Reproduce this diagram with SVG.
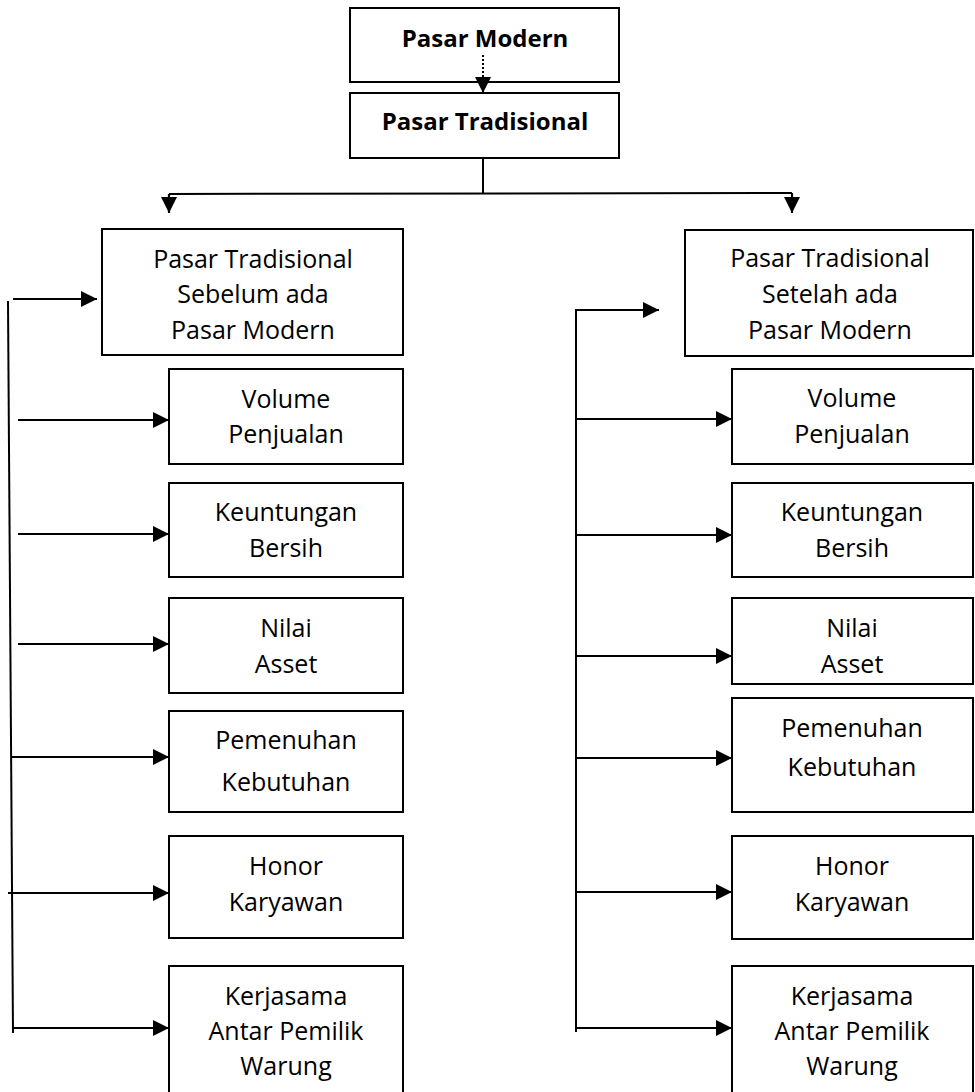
<svg xmlns="http://www.w3.org/2000/svg" width="975" height="1092" viewBox="0 0 975 1092">
  <style>
    .box { fill: #ffffff; stroke: #000000; stroke-width: 2; }
    .lbl { font-family: "Open Sans", "Liberation Sans", sans-serif; font-size: 25px; fill: #000000; text-anchor: middle; }
    .ttl { font-family: "Open Sans", "Liberation Sans", sans-serif; font-size: 24px; font-weight: bold; fill: #000000; text-anchor: middle; }
    .ln { fill: none; stroke: #000000; stroke-width: 2; }
    .arr { fill: none; stroke: #000000; stroke-width: 2.2; marker-end: url(#head); }
  </style>
  <defs>
    <marker id="head" markerUnits="userSpaceOnUse" markerWidth="16" markerHeight="16" viewBox="0 0 15 15" refX="15" refY="7.5" orient="auto">
      <path d="M0,0 L15,7.5 L0,15 Z" fill="#000000"/>
    </marker>
  </defs>
  <rect width="975" height="1092" fill="#ffffff"/>

  <!-- top level -->
  <g id="pasar-modern">
    <rect class="box" x="350" y="8" width="269" height="74"/>
    <text class="ttl" x="485" y="47">Pasar Modern</text>
  </g>
  <g id="pasar-tradisional">
    <rect class="box" x="350" y="93" width="269" height="65"/>
    <text class="ttl" x="485" y="130">Pasar Tradisional</text>
  </g>

  <!-- before / after branches -->
  <g id="sebelum">
    <rect class="box" x="102" y="229" width="301" height="126"/>
    <text class="lbl" x="253" y="268">Pasar Tradisional</text>
    <text class="lbl" x="253" y="303">Sebelum ada</text>
    <text class="lbl" x="253" y="339">Pasar Modern</text>
  </g>
  <g id="setelah">
    <rect class="box" x="685" y="230" width="288" height="126"/>
    <text class="lbl" x="830" y="267">Pasar Tradisional</text>
    <text class="lbl" x="830" y="303">Setelah ada</text>
    <text class="lbl" x="830" y="339">Pasar Modern</text>
  </g>

  <!-- left column indicators -->
  <g id="l-volume">
    <rect class="box" x="169" y="369" width="234" height="95"/>
    <text class="lbl" x="286" y="408">Volume</text>
    <text class="lbl" x="286" y="443">Penjualan</text>
  </g>
  <g id="l-keuntungan">
    <rect class="box" x="169" y="483" width="234" height="94"/>
    <text class="lbl" x="286" y="521">Keuntungan</text>
    <text class="lbl" x="286" y="557">Bersih</text>
  </g>
  <g id="l-nilai">
    <rect class="box" x="169" y="598" width="234" height="95"/>
    <text class="lbl" x="286" y="637">Nilai</text>
    <text class="lbl" x="286" y="673">Asset</text>
  </g>
  <g id="l-pemenuhan">
    <rect class="box" x="169" y="711" width="234" height="101"/>
    <text class="lbl" x="286" y="749">Pemenuhan</text>
    <text class="lbl" x="286" y="791">Kebutuhan</text>
  </g>
  <g id="l-honor">
    <rect class="box" x="169" y="836" width="234" height="102"/>
    <text class="lbl" x="286" y="875">Honor</text>
    <text class="lbl" x="286" y="911">Karyawan</text>
  </g>
  <g id="l-kerjasama">
    <rect class="box" x="169" y="966" width="234" height="135"/>
    <text class="lbl" x="286" y="1005">Kerjasama</text>
    <text class="lbl" x="286" y="1040">Antar Pemilik</text>
    <text class="lbl" x="286" y="1075">Warung</text>
  </g>

  <!-- right column indicators -->
  <g id="r-volume">
    <rect class="box" x="732" y="369" width="241" height="95"/>
    <text class="lbl" x="852" y="407">Volume</text>
    <text class="lbl" x="852" y="443">Penjualan</text>
  </g>
  <g id="r-keuntungan">
    <rect class="box" x="732" y="483" width="241" height="94"/>
    <text class="lbl" x="852" y="521">Keuntungan</text>
    <text class="lbl" x="852" y="557">Bersih</text>
  </g>
  <g id="r-nilai">
    <rect class="box" x="732" y="598" width="241" height="86"/>
    <text class="lbl" x="852" y="637">Nilai</text>
    <text class="lbl" x="852" y="673">Asset</text>
  </g>
  <g id="r-pemenuhan">
    <rect class="box" x="732" y="698" width="241" height="114"/>
    <text class="lbl" x="852" y="737">Pemenuhan</text>
    <text class="lbl" x="852" y="776">Kebutuhan</text>
  </g>
  <g id="r-honor">
    <rect class="box" x="732" y="836" width="241" height="103"/>
    <text class="lbl" x="852" y="875">Honor</text>
    <text class="lbl" x="852" y="911">Karyawan</text>
  </g>
  <g id="r-kerjasama">
    <rect class="box" x="732" y="966" width="241" height="135"/>
    <text class="lbl" x="852" y="1005">Kerjasama</text>
    <text class="lbl" x="852" y="1040">Antar Pemilik</text>
    <text class="lbl" x="852" y="1075">Warung</text>
  </g>

  <!-- connectors -->
  <g id="connectors">
    <line x1="483" y1="55" x2="483" y2="93" stroke="#000" stroke-width="2" stroke-dasharray="2 2" marker-end="url(#head)"/>
    <polyline class="ln" points="483,158 483,193"/>
    <polyline class="ln" points="169,194 792,193"/>
    <line class="arr" x1="169" y1="194" x2="169" y2="213"/>
    <line class="arr" x1="792" y1="193" x2="792" y2="213"/>

    <!-- left spine -->
    <line class="ln" x1="8" y1="301" x2="13" y2="1033"/>
    <line class="arr" x1="13" y1="299" x2="97" y2="299"/>
    <line class="arr" x1="18" y1="420" x2="169" y2="420"/>
    <line class="arr" x1="18" y1="534" x2="169" y2="534"/>
    <line class="arr" x1="18" y1="644" x2="169" y2="644"/>
    <line class="arr" x1="12" y1="757" x2="169" y2="757"/>
    <line class="arr" x1="8" y1="893" x2="169" y2="893"/>
    <line class="arr" x1="13" y1="1028" x2="169" y2="1028"/>

    <!-- right spine -->
    <polyline class="ln" points="576,1032 576,310 645,310"/>
    <line class="arr" x1="576" y1="310" x2="659" y2="310"/>
    <line class="arr" x1="576" y1="419" x2="732" y2="419"/>
    <line class="arr" x1="576" y1="535" x2="732" y2="535"/>
    <line class="arr" x1="576" y1="656" x2="732" y2="656"/>
    <line class="arr" x1="576" y1="758" x2="732" y2="758"/>
    <line class="arr" x1="576" y1="892" x2="732" y2="892"/>
    <line class="arr" x1="576" y1="1028" x2="732" y2="1028"/>
  </g>
</svg>
